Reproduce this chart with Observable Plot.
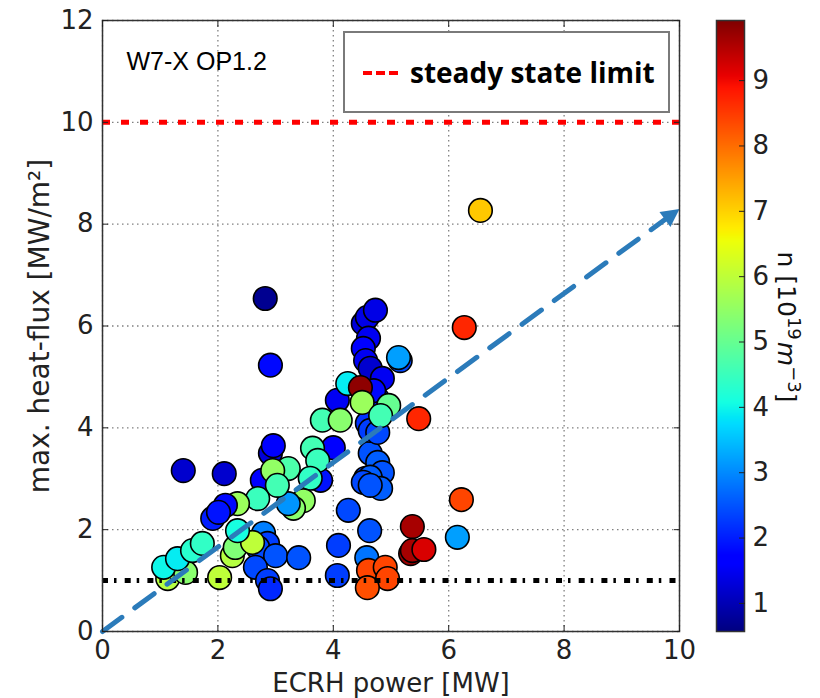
<!DOCTYPE html>
<html><head><meta charset="utf-8">
<script src="https://cdn.jsdelivr.net/npm/d3@7"></script>
<script src="https://cdn.jsdelivr.net/npm/@observablehq/plot@0.6"></script>
<style>
body{margin:0;background:#fff;}
#wrap{position:relative;width:820px;height:698px;overflow:hidden;}
#wrap > svg{position:absolute;top:0;}
</style></head><body><div id="wrap"></div>
<script>
// ---- data ----
const ecrhPower = [6.55,6.27,2.82,2.91,1.40,2.11,5.48,6.22,6.15,5.37,5.34,5.37,5.57,
  4.58,4.61,4.90,4.94,4.59,4.07,4.09,4.26,4.63,
  4.64,4.77,4.85,4.56,4.64,4.52,4.82,4.64,
  4.52,4.59,4.73,4.61,4.52,4.56,4.64,4.85,5.16,5.13,4.76,4.70,4.07,4.25,4.47,4.59,4.64,4.77,4.50,4.96,4.82,4.00,3.81,4.12,
  2.91,2.96,3.78,3.64,3.73,3.60,3.48,3.31,3.22,2.77,3.22,2.95,3.03,2.69,
  2.79,2.86,2.69,3.00,3.40,2.65,2.86,2.91,
  1.91,2.34,2.13,2.01,2.25,2.30,2.60,2.34,2.03,
  1.13,1.44,1.06,1.30,1.56,1.73];
const heatFlux = [8.27,5.97,6.54,5.23,3.16,3.10,4.18,2.59,1.85,2.06,1.53,1.59,1.61,
  1.45,1.20,1.26,1.04,0.86,1.10,1.69,2.38,1.98,
  3.50,3.32,3.12,3.01,3.03,2.93,2.81,2.87,
  6.05,6.17,6.31,5.76,5.56,5.32,5.17,4.97,5.32,5.38,4.58,4.73,4.54,4.87,4.79,4.09,3.95,3.91,4.50,4.44,4.24,3.61,4.15,4.15,
  3.50,3.65,2.97,3.60,3.36,3.01,2.57,2.42,2.51,2.97,3.20,3.16,2.87,2.61,
  1.93,1.73,1.65,1.49,1.45,1.26,1.00,0.84,
  2.22,2.51,2.48,2.34,1.49,1.65,1.75,1.98,1.06,
  1.04,1.16,1.26,1.43,1.59,1.73];
const density = [7.1,8.7,0.7,1.8,1.2,1.2,8.7,8.4,3.2,9.6,9.7,9.6,9.2,
  2.8,8.4,8.4,8.4,8.3,2.3,2.3,2.4,2.5,
  2.5,2.6,2.5,2.4,2.6,2.4,2.6,2.5,
  1.3,1.4,1.4,1.5,1.6,1.5,1.2,1.5,2.4,3.2,1.9,1.8,1.5,3.9,9.8,2.2,2.3,2.4,5.6,5.0,4.6,1.6,4.6,5.4,
  1.3,1.6,1.9,4.6,4.5,4.4,5.5,5.4,3.1,1.6,4.7,5.5,4.6,4.5,
  2.9,2.3,2.4,2.5,2.5,2.4,2.3,2.1,
  2.0,5.6,1.8,1.9,5.9,5.3,6.0,4.1,6.0,
  5.9,5.4,4.0,3.9,4.3,4.4];
const xTicks = [0,2,4,6,8,10];
const yTicks = [0,2,4,6,8,10,12];
const densityTicks = [1,2,3,4,5,6,7,8,9];
const densityRange = [0.57, 9.92];
const steadyStateLimit = [10];
const lowerLine = [1];
const trendX = [0,10];
const trendY = [0,8.3];
const annotation = ["W7-X OP1.2"];
const legendLabel = "steady state limit";

// ---- matplotlib "jet" colormap ----
function jet(t){
  t = Math.max(0, Math.min(1, t));
  const seg = pts => { for (let i = 1; i < pts.length; i++) { if (t <= pts[i][0]) { const [x0,y0] = pts[i-1], [x1,y1] = pts[i]; return y0 + (y1-y0)*(t-x0)/(x1-x0); } } return pts[pts.length-1][1]; };
  const r = seg([[0,0],[0.35,0],[0.66,1],[0.89,1],[1,0.5]]);
  const g = seg([[0,0],[0.125,0],[0.375,1],[0.64,1],[0.91,0],[1,0]]);
  const b = seg([[0,0.5],[0.11,1],[0.34,1],[0.65,0],[1,0]]);
  return `rgb(${Math.round(r*255)},${Math.round(g*255)},${Math.round(b*255)})`;
}

const points = ecrhPower.map((x, i) => ({x, y: heatFlux[i], n: density[i]}));
const trend = trendX.map((x, i) => ({x, y: trendY[i]}));
const colorScale = {type: "linear", domain: densityRange, interpolate: jet};
const blue = "#2b7bba";
const headShape = {draw(ctx, l){ const w = l*0.52; ctx.moveTo(0,-l); ctx.lineTo(w,0); ctx.lineTo(-w,0); ctx.closePath(); }};
const gridStyle = {stroke:"#808080", strokeOpacity:1, strokeWidth:1.3, strokeDasharray:"1.5,3.5"};
const blank = () => "";
const intFmt = d => String(d);

const main = Plot.plot({
  width: 820, height: 698,
  marginLeft: 102, marginRight: 141, marginTop: 20, marginBottom: 67,
  style: {fontFamily: "DejaVu Sans", fontSize: "26px", color: "#222", background: "transparent"},
  x: {domain: [0,10]},
  y: {domain: [0,12]},
  color: colorScale,
  marks: [
    Plot.gridX(xTicks, gridStyle),
    Plot.gridY(yTicks, gridStyle),
    Plot.ruleY(steadyStateLimit, {stroke:"#ff0000", strokeWidth:5, strokeDasharray:"8,11"}),
    Plot.dot(points, {x:"x", y:"y", fill:"n", r:11.8, stroke:"#000", strokeWidth:1.6}),
    Plot.ruleY(lowerLine, {stroke:"#000", strokeWidth:5, strokeDasharray:"6,6,2.5,8.2"}),
    Plot.line(trend, {x:"x", y:"y", stroke:blue, strokeWidth:5, strokeDasharray:"24,16"}),
    Plot.vector(trend.slice(-1), {x:"x", y:"y", rotate:54, length:18, anchor:"end", shape:headShape, fill:blue, stroke:"none"}),
    Plot.frame({stroke:"#333", strokeWidth:1.5}),
    Plot.axisX(xTicks, {anchor:"bottom", tickSize:0, tickPadding:9, tickFormat:intFmt, label:"ECRH power [MW]", labelAnchor:"center", labelArrow:"none", labelOffset:60}),
    Plot.axisX(xTicks, {anchor:"bottom", tickSize:-6, tickFormat:blank, label:null}),
    Plot.axisX(xTicks, {anchor:"top", tickSize:-6, tickFormat:blank, label:null}),
    Plot.axisY(yTicks, {anchor:"left", tickSize:0, tickPadding:9, tickFormat:intFmt, label:null}),
    Plot.axisY(yTicks, {anchor:"left", tickSize:-6, tickFormat:blank, label:"max. heat-flux [MW/m²]", labelAnchor:"center", labelArrow:"none", labelOffset:73, fontSize:28}),
    Plot.axisY(yTicks, {anchor:"right", tickSize:-6, tickFormat:blank, label:null}),
    Plot.text(annotation, {text: d => d, frameAnchor:"top-left", textAnchor:"start", lineAnchor:"top", dx:24, dy:32, fontSize:25, fontFamily:"Liberation Sans", fill:"#000"})
  ]
});
main.style.left = "0px";

const cb = Plot.plot({
  width: 120, height: 698,
  marginLeft: 16, marginRight: 76, marginTop: 20, marginBottom: 67,
  style: {fontFamily: "DejaVu Sans", fontSize: "26px", color: "#222", background: "transparent"},
  x: {domain: [0,1], axis: null},
  y: {domain: densityRange},
  color: colorScale,
  marks: [
    Plot.raster({fill: (x, y) => y, x1: 0, x2: 1, y1: densityRange[0], y2: densityRange[1]}),
    Plot.frame({stroke:"#333", strokeWidth:1.5}),
    Plot.axisY(densityTicks, {anchor:"right", tickSize:-6, tickFormat:blank, label:null}),
    Plot.axisY(densityTicks, {anchor:"right", tickSize:0, tickPadding:8, tickFormat:intFmt, label:null})
  ]
});
cb.style.left = "700px";
// colorbar label with mathtext-like superscripts
const lab = d3.select(cb).append("text")
  .attr("transform", "translate(78,327) rotate(90)")
  .attr("text-anchor", "middle")
  .attr("fill", "#111")
  .style("font-size", "25px");
lab.append("tspan").text("n [10");
lab.append("tspan").attr("dy", -10).style("font-size", "18px").text("19");
lab.append("tspan").attr("dy", 10).attr("dx", 2).style("font-style", "italic").text("m");
lab.append("tspan").attr("dy", -10).style("font-size", "18px").text("−3");
lab.append("tspan").attr("dy", 10).text("]");

// legend box
const leg = d3.create("svg").attr("width", 327).attr("height", 82)
  .style("left", "343px").style("top", "31px");
leg.append("rect").attr("x", 1).attr("y", 1).attr("width", 325).attr("height", 80)
  .attr("fill", "#fff").attr("stroke", "#7a7a7a").attr("stroke-width", 2);
leg.append("line").attr("x1", 20).attr("x2", 59).attr("y1", 42).attr("y2", 42)
  .attr("stroke", "#ff0000").attr("stroke-width", 4).attr("stroke-dasharray", "9,4");
leg.append("text").attr("x", 67).attr("y", 52)
  .style("font-family", "'Open Sans'").style("font-weight", "bold").style("font-size", "28px")
  .attr("fill", "#000").text(legendLabel);

const wrap = document.getElementById("wrap");
wrap.append(main, cb, leg.node());
</script>
</body></html>
